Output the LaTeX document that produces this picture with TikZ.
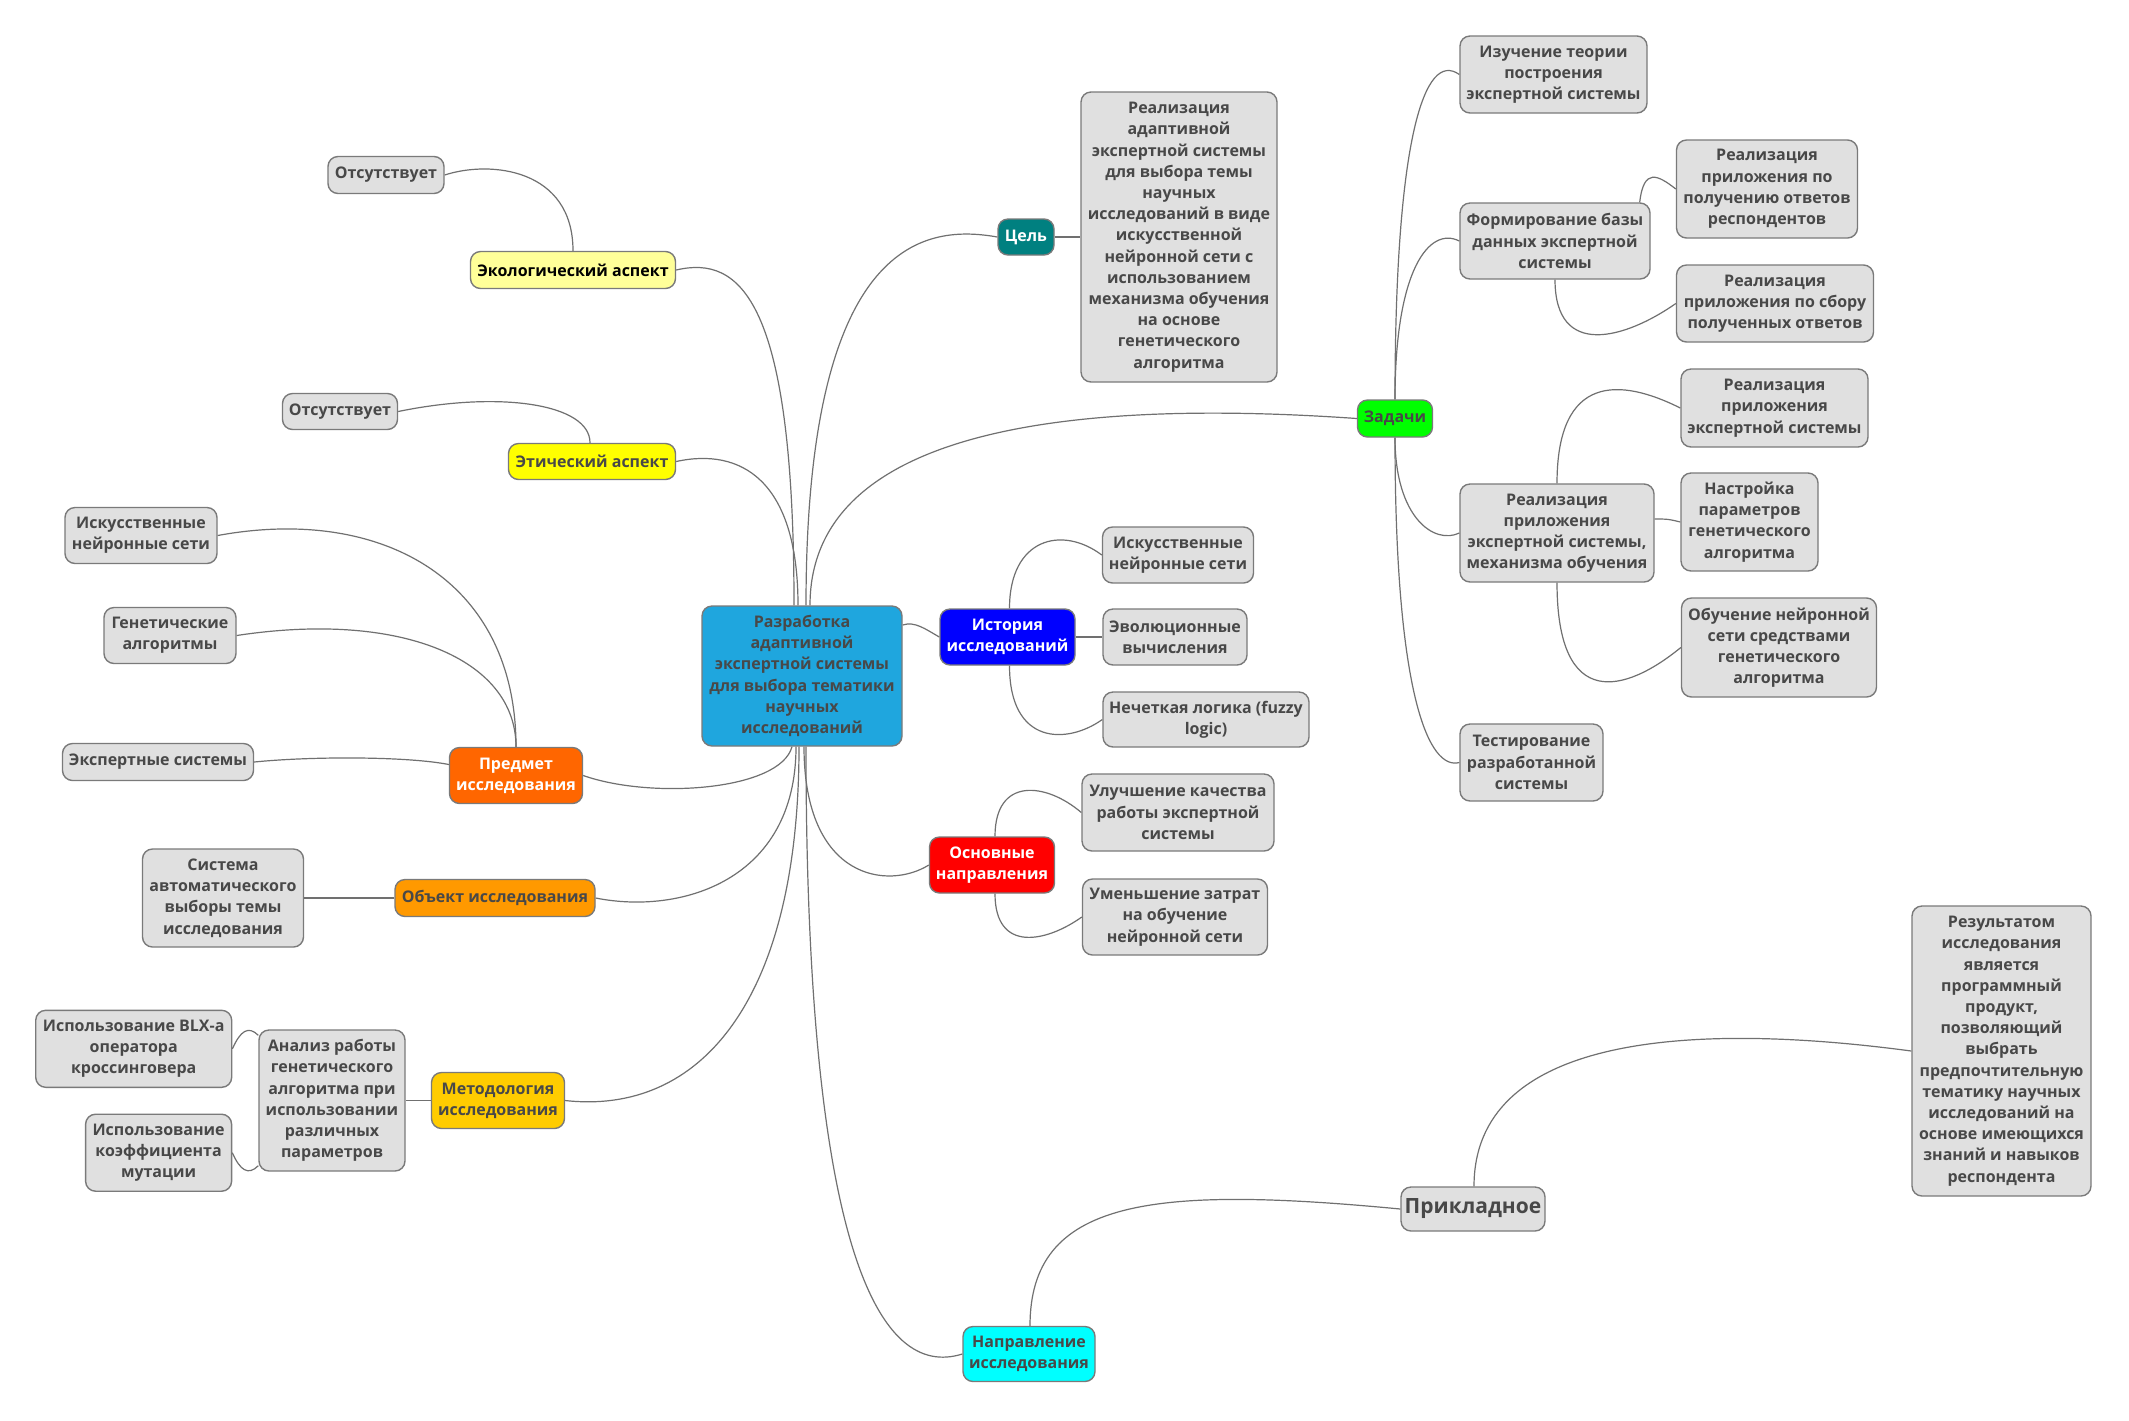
\documentclass[tikz,border=0pt]{standalone}
\usepackage{fontspec}
\setmainfont{Open Sans}
\usetikzlibrary{calc}
\definecolor{boxgray}{RGB}{224,224,224}
\definecolor{bordergray}{RGB}{122,122,122}
\definecolor{txt}{RGB}{72,72,72}
\definecolor{edgegray}{RGB}{112,112,112}
\definecolor{cblue}{RGB}{31,166,222}
\definecolor{cteal}{RGB}{0,128,128}
\definecolor{cgreen}{RGB}{0,255,0}
\definecolor{cblueh}{RGB}{0,0,255}
\definecolor{cred}{RGB}{255,0,0}
\definecolor{ccyan}{RGB}{0,255,255}
\definecolor{cpaleyel}{RGB}{255,255,153}
\definecolor{cyel}{RGB}{255,255,0}
\definecolor{corred}{RGB}{255,102,0}
\definecolor{corange}{RGB}{255,153,0}
\definecolor{cgold}{RGB}{255,204,0}
\tikzset{
  box/.style={draw=bordergray, line width=0.7pt, rounded corners=5pt, fill=boxgray, text=txt,
    align=center, inner sep=1pt, font=\bfseries\fontsize{8}{10.6}\selectfont},
  conn/.style={draw=edgegray, line width=0.6pt}
}
\begin{document}
\begin{tikzpicture}[x=0.5pt,y=-0.5pt]
\fill[white] (0,0) rectangle (2129,1420);
\useasboundingbox (0,0) rectangle (2129,1420);

% ---- nodes ----
\node[box, minimum width=100pt, minimum height=70pt, fill=cblue] (c) at (802,676) {Разработка\\адаптивной\\экспертной системы\\для выбора тематики\\научных\\исследований};

\node[box, minimum width=28pt, minimum height=18pt, fill=cteal, text=white] (cel) at (1026,237) {Цель};
\node[box, minimum width=98pt, minimum height=145pt] (goal) at (1179,237) {Реализация\\адаптивной\\экспертной системы\\для выбора темы\\научных\\исследований в виде\\искусственной\\нейронной сети с\\использованием\\механизма обучения\\на основе\\генетического\\алгоритма};

\node[box, minimum width=37.5pt, minimum height=18.5pt, fill=cgreen] (zad) at (1395,418.5) {Задачи};
\node[box, minimum width=93.5pt, minimum height=38.5pt] (izu) at (1553.5,74.5) {Изучение теории\\построения\\экспертной системы};
\node[box, minimum width=95pt, minimum height=38pt] (form) at (1555,241) {Формирование базы\\данных экспертной\\системы};
\node[box, minimum width=90.5pt, minimum height=49pt] (resp) at (1767,189) {Реализация\\приложения по\\получению ответов\\респондентов};
\node[box, minimum width=98.5pt, minimum height=38.5pt] (sbor) at (1775,303.5) {Реализация\\приложения по сбору\\полученных ответов};
\node[box, minimum width=97pt, minimum height=49pt] (mech) at (1557,533) {Реализация\\приложения\\экспертной системы,\\механизма обучения};
\node[box, minimum width=93.5pt, minimum height=39pt] (prilES) at (1774.5,408) {Реализация\\приложения\\экспертной системы};
\node[box, minimum width=68.5pt, minimum height=49pt] (nast) at (1749.5,522) {Настройка\\параметров\\генетического\\алгоритма};
\node[box, minimum width=97.5pt, minimum height=49.5pt] (obuch) at (1779,647.5) {Обучение нейронной\\сети средствами\\генетического\\алгоритма};
\node[box, minimum width=71.5pt, minimum height=38.5pt] (test) at (1531.5,762.5) {Тестирование\\разработанной\\системы};

\node[box, minimum width=67.5pt, minimum height=28pt, fill=cblueh, text=white] (hist) at (1007.5,637) {История\\исследований};
\node[box, minimum width=75.5pt, minimum height=28pt] (insR) at (1178,555) {Искусственные\\нейронные сети};
\node[box, minimum width=72pt, minimum height=28pt] (evo) at (1175,637) {Эволюционные\\вычисления};
\node[box, minimum width=103pt, minimum height=27.5pt] (fuzzy) at (1206,719.5) {Нечеткая логика (fuzzy\\logic)};

\node[box, minimum width=62.5pt, minimum height=28pt, fill=cred, text=white] (osn) at (992,865) {Основные\\направления};
\node[box, minimum width=96pt, minimum height=38.5pt] (ulu) at (1178,812.5) {Улучшение качества\\работы экспертной\\системы};
\node[box, minimum width=92.5pt, minimum height=38pt] (umen) at (1175,917) {Уменьшение затрат\\на обучение\\нейронной сети};

\node[box, minimum width=66pt, minimum height=27.5pt, fill=ccyan] (napr) at (1029,1354) {Направление\\исследования};
\node[box, minimum width=72pt, minimum height=22pt, font=\bfseries\fontsize{10.5}{13}\selectfont] (prik) at (1473,1209) {Прикладное};
\node[box, minimum width=89.5pt, minimum height=145pt] (res) at (2001.5,1051) {Результатом\\исследования\\является\\программный\\продукт,\\позволяющий\\выбрать\\предпочтительную\\тематику научных\\исследований на\\основе имеющихся\\знаний и навыков\\респондента};

\node[box, minimum width=102.5pt, minimum height=18.5pt, fill=cpaleyel, text=black] (eco) at (573,270) {Экологический аспект};
\node[box, minimum width=58pt, minimum height=18.5pt] (ots1) at (386,175) {Отсутствует};
\node[box, minimum width=83.5pt, minimum height=18pt, fill=cyel] (eth) at (592,461.5) {Этический аспект};
\node[box, minimum width=57.5pt, minimum height=18pt] (ots2) at (340,411.5) {Отсутствует};

\node[box, minimum width=66.5pt, minimum height=28pt, fill=corred, text=white] (pred) at (516,775.5) {Предмет\\исследования};
\node[box, minimum width=76pt, minimum height=28pt] (insL) at (141,535.5) {Искусственные\\нейронные сети};
\node[box, minimum width=66pt, minimum height=28pt] (gen) at (170,635.5) {Генетические\\алгоритмы};
\node[box, minimum width=95.5pt, minimum height=18.5pt] (exps) at (158,762) {Экспертные системы};

\node[box, minimum width=100pt, minimum height=18.5pt, fill=corange] (obj) at (495,898) {Объект исследования};
\node[box, minimum width=80.5pt, minimum height=49pt] (sys) at (223,898) {Система\\автоматического\\выборы темы\\исследования};

\node[box, minimum width=66.5pt, minimum height=28pt, fill=cgold] (met) at (498,1100.5) {Методология\\исследования};
\node[box, minimum width=73pt, minimum height=70.5pt] (anal) at (332,1100.5) {Анализ работы\\генетического\\алгоритма при\\использовании\\различных\\параметров};
\node[box, minimum width=98pt, minimum height=38.5pt] (blx) at (133.7,1048.8) {Использование BLX-a\\оператора\\кроссинговера};
\node[box, minimum width=73pt, minimum height=38.5pt] (koef) at (158.6,1152.7) {Использование\\коэффициента\\мутации};

% ---- connectors ----
\draw[conn] ($(c.north)+(-8,0)$) .. controls +(0,-306) and +(64,-15) .. (eco.east);
\draw[conn] ($(c.north)+(-4,0)$) .. controls +(0,-126) and +(64,-14) .. (eth.east);
\draw[conn] ($(c.north)+(4,0)$) .. controls +(0,-373) and +(-68,-12) .. (cel.west);
\draw[conn] ($(c.north)+(8,0)$) .. controls +(0,-186) and +(-258,-18) .. (zad.west);
\draw[conn] ($(c.east)+(0,-51)$) .. controls +(12,-4) and +(-14,-8) .. (hist.west);
\draw[conn] ($(c.south)+(-10,0)$) .. controls +(-12,44) and +(68,24) .. (pred.east);
\draw[conn] ($(c.south)+(-6,0)$) .. controls +(0,134) and +(85,17) .. (obj.east);
\draw[conn] ($(c.south)+(-3,0)$) .. controls +(0,254) and +(135,15) .. (met.east);
\draw[conn] ($(c.south)+(2,0)$) .. controls +(0,134) and +(-40,25) .. (osn.west);
\draw[conn] ($(c.south)+(4,0)$) .. controls +(0,504) and +(-83,26) .. (napr.west);

\draw[conn] (cel.east) -- (goal.west);

\draw[conn] (zad.north) .. controls +(0,-260) and +(-35,-25) .. (izu.west);
\draw[conn] (zad.north) .. controls +(0,-130) and +(-30,-15) .. (form.west);
\draw[conn] (zad.south) .. controls +(0,80) and +(-25,12) .. (mech.west);
\draw[conn] (zad.south) .. controls +(0,260) and +(-30,8) .. (test.west);

\draw[conn] ($(form.north east)+(-11,0)$) .. controls +(4,-35) and +(-18,-14) .. (resp.west);
\draw[conn] (form.south) .. controls +(0,80) and +(-50,35) .. (sbor.west);

\draw[conn] (mech.north) .. controls +(0,-110) and +(-60,-30) .. (prilES.west);
\draw[conn] ($(mech.east)+(0,-14)$) .. controls +(12,0) and +(-12,-3) .. (nast.west);
\draw[conn] (mech.south) .. controls +(0,130) and +(-55,45) .. (obuch.west);

\draw[conn] ($(hist.north)+(2,0)$) .. controls +(0,-70) and +(-40,-30) .. (insR.west);
\draw[conn] (hist.east) -- (evo.west);
\draw[conn] ($(hist.south)+(2,0)$) .. controls +(0,80) and +(-35,25) .. (fuzzy.west);

\draw[conn] ($(osn.north)+(3,0)$) .. controls +(0,-60) and +(-35,-30) .. (ulu.west);
\draw[conn] ($(osn.south)+(3,0)$) .. controls +(0,60) and +(-35,25) .. (umen.west);

\draw[conn] ($(napr.north)+(1,0)$) .. controls +(0,-126) and +(-251,-24) .. (prik.west);
\draw[conn] ($(prik.north)+(1,0)$) .. controls +(0,-147) and +(-232,-31) .. (res.west);

\draw[conn] (eco.north) .. controls +(0,-82) and +(46,-15) .. (ots1.east);
\draw[conn] ($(eth.north)+(-2,0)$) .. controls +(0,-39) and +(102,-21) .. (ots2.east);

\draw[conn] (pred.north) .. controls +(0,-168) and +(163,-30) .. (insL.east);
\draw[conn] (pred.north) .. controls +(0,-88) and +(164,-25) .. (gen.east);
\draw[conn] ($(pred.west)+(0,-11)$) .. controls +(-40,-8) and +(60,-6) .. (exps.east);

\draw[conn] (obj.west) -- (sys.east);
\draw[conn] (met.west) -- (anal.east);
\draw[conn] ($(anal.north west)+(0,6)$) .. controls +(-10,-10) and +(8,-18) .. (blx.east);
\draw[conn] ($(anal.south west)+(0,-6)$) .. controls +(-10,10) and +(8,18) .. (koef.east);
\end{tikzpicture}
\end{document}
